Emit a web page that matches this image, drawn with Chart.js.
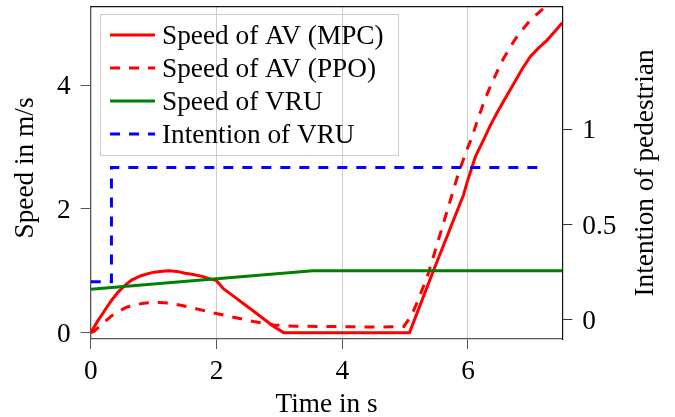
<!DOCTYPE html>
<html>
<head>
<meta charset="utf-8">
<script src="https://cdn.jsdelivr.net/npm/chart.js@4.4.1/dist/chart.umd.min.js"></script>
<style>
  html, body { margin: 0; padding: 0; background: #ffffff; }
  #wrap { width: 675px; height: 417px; position: relative; }
</style>
</head>
<body>
<div id="wrap"><canvas id="c" width="675" height="417"></canvas></div>
<script>
// ---- data ----
const seriesLabels = ['Speed of AV (MPC)', 'Speed of AV (PPO)', 'Speed of VRU', 'Intention of VRU'];

const mpcTime  = [0, 0.1, 0.23, 0.33, 0.44, 0.55, 0.65, 0.8, 0.97, 1.1, 1.24, 1.37, 1.5, 1.63, 1.77, 1.9, 2.0, 2.11, 2.27, 2.48, 2.69, 2.91, 3.07, 5.07, 5.45, 5.93, 5.98, 6.04, 6.12, 6.25, 6.35, 6.46, 6.6, 6.73, 6.86, 6.99, 7.12, 7.26, 7.38, 7.5];
const mpcSpeed = [0, 0.17, 0.37, 0.52, 0.66, 0.77, 0.85, 0.92, 0.97, 0.99, 1.0, 0.99, 0.96, 0.94, 0.91, 0.87, 0.84, 0.71, 0.59, 0.43, 0.27, 0.1, 0, 0, 1.0, 2.23, 2.41, 2.6, 2.85, 3.12, 3.34, 3.55, 3.8, 4.03, 4.26, 4.46, 4.6, 4.73, 4.87, 5.01];

const ppoTime  = [0, 0.05, 0.14, 0.23, 0.33, 0.44, 0.57, 0.71, 0.84, 0.97, 1.1, 1.24, 1.45, 1.66, 1.95, 2.27, 2.59, 2.91, 3.1, 3.26, 4.55, 4.98, 5.1, 5.21, 5.37, 5.53, 5.69, 5.85, 5.98, 6.06, 6.14, 6.25, 6.33, 6.41, 6.49, 6.57, 6.68, 6.78, 6.89, 6.99, 7.12, 7.23, 7.5];
const ppoSpeed = [0, 0.02, 0.1, 0.18, 0.27, 0.34, 0.41, 0.45, 0.475, 0.485, 0.487, 0.48, 0.44, 0.39, 0.32, 0.25, 0.18, 0.125, 0.11, 0.105, 0.09, 0.1, 0.28, 0.53, 0.96, 1.5, 2.04, 2.58, 2.95, 3.15, 3.4, 3.72, 3.92, 4.1, 4.28, 4.44, 4.63, 4.79, 4.93, 5.05, 5.17, 5.27, 5.5];

const vruTime  = [0, 3.53, 7.5];
const vruSpeed = [0.7, 1.0, 1.0];

const intentTime  = [0, 0.33, 0.33, 7.2];
const intentValue = [0.2, 0.2, 0.8, 0.8];

const xTicks  = [0, 2, 4, 6];
const yTicks  = [0, 2, 4];
const y2Ticks = [0, 0.5, 1];

const xTitle  = 'Time in s';
const yTitle  = 'Speed in m/s';
const y2Title = 'Intention of pedestrian';

// ---- helpers ----
const toXY = (xs, ys) => xs.map((x, i) => ({ x: x, y: ys[i] }));
const FONT = "'Liberation Serif', 'Times New Roman', serif";
const FS = 27.3;
const LW = 3;

const noPad = s => { s.paddingTop = 0; s.paddingBottom = 0; s.paddingLeft = 0; s.paddingRight = 0; };

const titlesAndFrame = {
  id: 'titlesAndFrame',
  afterDraw(chart) {
    const ctx = chart.ctx;
    const a = chart.chartArea;
    ctx.save();
    // top frame line
    ctx.strokeStyle = '#111';
    ctx.lineWidth = 1.2;
    ctx.beginPath();
    ctx.moveTo(a.left, a.top);
    ctx.lineTo(a.right, a.top);
    ctx.stroke();

    ctx.fillStyle = '#000';
    ctx.font = FS + 'px ' + FONT;
    ctx.textBaseline = 'alphabetic';
    ctx.textAlign = 'center';
    // bottom title
    ctx.fillText(xTitle, (a.left + a.right) / 2, 412);
    // left title
    ctx.save();
    ctx.translate(33, 168);
    ctx.rotate(-Math.PI / 2);
    ctx.fillText(yTitle, 0, 0);
    ctx.restore();
    // right title
    ctx.save();
    ctx.translate(653, 173);
    ctx.rotate(-Math.PI / 2);
    ctx.fillText(y2Title, 0, 0);
    ctx.restore();

    // legend (inside plot, transparent)
    const lx = 100.5, ly = 14.5, lw = 298, lh = 141;
    ctx.strokeStyle = '#cccccc';
    ctx.lineWidth = 1;
    ctx.strokeRect(lx, ly, lw, lh);
    const rowY = [35, 68, 101, 134];
    chart.data.datasets.forEach((ds, i) => {
      const y = rowY[i];
      ctx.save();
      ctx.strokeStyle = ds.borderColor;
      ctx.lineWidth = ds.borderWidth;
      ctx.setLineDash(ds.borderDash || []);
      ctx.beginPath();
      ctx.moveTo(110, y);
      ctx.lineTo(155, y);
      ctx.stroke();
      ctx.restore();
      ctx.textAlign = 'left';
      ctx.fillStyle = '#000';
      ctx.fillText(ds.label, 162, y + 8.5);
    });
    ctx.restore();
  }
};

const chart = new Chart(document.getElementById('c'), {
  type: 'line',
  data: {
    datasets: [
      { label: seriesLabels[0], data: toXY(mpcTime, mpcSpeed), yAxisID: 'y',
        borderColor: '#ff0000', borderWidth: LW, pointRadius: 0, tension: 0, order: 3 },
      { label: seriesLabels[1], data: toXY(ppoTime, ppoSpeed), yAxisID: 'y',
        borderColor: '#ff0000', borderWidth: LW, borderDash: [10, 9], pointRadius: 0, tension: 0, order: 2 },
      { label: seriesLabels[2], data: toXY(vruTime, vruSpeed), yAxisID: 'y',
        borderColor: '#008000', borderWidth: LW, pointRadius: 0, order: 1 },
      { label: seriesLabels[3], data: toXY(intentTime, intentValue), yAxisID: 'y2',
        borderColor: '#0000ff', borderWidth: LW, borderDash: [10, 9], pointRadius: 0, order: 0 }
    ]
  },
  options: {
    responsive: false,
    animation: false,
    events: [],
    layout: { padding: { top: 6.7, left: 0, right: 0, bottom: 0 } },
    plugins: { legend: { display: false }, tooltip: { enabled: false }, title: { display: false } },
    scales: {
      x: {
        type: 'linear', position: 'bottom', min: 0, max: 7.5,
        afterBuildTicks: s => { s.ticks = xTicks.map(v => ({ value: v })); },
        afterFit: s => { s.height = 78; noPad(s); },
        grid: {
          color: c => (c.tick && c.tick.value === 0) ? 'rgba(0,0,0,0)' : '#cccccc',
          lineWidth: 1, tickColor: '#555', tickLength: 10, drawTicks: true
        },
        border: { display: true, color: '#555', width: 1.3 },
        ticks: { font: { family: FONT, size: FS }, color: '#000', padding: 6, maxRotation: 0,
                 callback: v => String(v) }
      },
      y: {
        type: 'linear', position: 'left', min: -0.103, max: 5.27,
        afterBuildTicks: s => { s.ticks = yTicks.map(v => ({ value: v })); },
        afterFit: s => { s.width = 90.7; noPad(s); },
        grid: { drawOnChartArea: false, tickColor: '#555', tickLength: 10 },
        border: { display: true, color: '#555', width: 1.3 },
        ticks: { font: { family: FONT, size: FS }, color: '#000', padding: 10, labelOffset: 2, callback: v => String(v) }
      },
      y2: {
        type: 'linear', position: 'right', min: -0.1, max: 1.643,
        afterBuildTicks: s => { s.ticks = y2Ticks.map(v => ({ value: v })); },
        afterFit: s => { s.width = 112.7; noPad(s); },
        grid: { drawOnChartArea: false, tickColor: '#333', tickLength: 10 },
        border: { display: true, color: '#111', width: 1.2 },
        ticks: { font: { family: FONT, size: FS }, color: '#000', padding: 10, labelOffset: 2, callback: v => String(v) }
      }
    }
  },
  plugins: [titlesAndFrame]
});
</script>
</body>
</html>
